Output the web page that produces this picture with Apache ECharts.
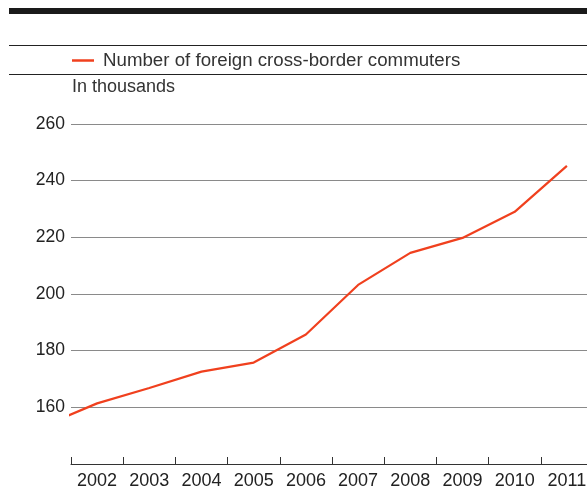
<!DOCTYPE html>
<html>
<head>
<meta charset="utf-8">
<script src="https://cdn.jsdelivr.net/npm/echarts@6/dist/echarts.min.js"></script>
<style>
    html, body { margin: 0; padding: 0; background: #fff; }
    #chart { width: 587px; height: 489px; }
</style>
</head>
<body>
<div id="chart"></div>
<script>
// year labels sit in the middle of each year, ticks on the year boundaries
const labelYears = [2002, 2003, 2004, 2005, 2006, 2007, 2008, 2009, 2010, 2011];
const tickYears = [2001.5, 2002.5, 2003.5, 2004.5, 2005.5, 2006.5, 2007.5, 2008.5, 2009.5, 2010.5];
// line points (first one is clipped at the axis start)
const pointYears = [2001, 2002, 2003, 2004, 2005, 2006, 2007, 2008, 2009, 2010, 2011];
const commuters = [153.6, 161.4, 166.8, 172.6, 175.8, 185.7, 203.2, 214.5, 219.8, 229.0, 245.2];
const yTicks = [140, 160, 180, 200, 220, 240, 260];

const seriesName = "Number of foreign cross-border commuters";
const font = "Liberation Sans, Arial, sans-serif";

const chart = echarts.init(document.getElementById("chart"), null, { renderer: "canvas" });

const option = {
    backgroundColor: "#ffffff",
    animation: false,
    textStyle: { fontFamily: font },
    graphic: [
        // heavy rule on top
        { type: "rect", shape: { x: 9, y: 8, width: 578, height: 6 }, style: { fill: "#1a1a1a" } },
        { type: "line", shape: { x1: 9, y1: 45.5, x2: 587, y2: 45.5 }, style: { stroke: "#222", lineWidth: 1 } },
        { type: "line", shape: { x1: 9, y1: 74.5, x2: 587, y2: 74.5 }, style: { stroke: "#222", lineWidth: 1 } },
        {
            type: "text", left: 72, top: 78,
            style: { text: "In thousands", fontSize: 18, fill: "#333", fontFamily: font },
        },
    ],
    legend: {
        left: 72,
        top: 51,
        padding: 0,
        icon: "rect",
        itemWidth: 22,
        itemHeight: 2.5,
        itemGap: 9,
        textStyle: { fontSize: 18.7, color: "#333", fontFamily: font, padding: [0, 0, 0, 4] },
        data: [seriesName],
    },
    grid: { left: 71, right: 0, top: 124, bottom: 25, outerBoundsMode: "none", containLabel: false },
    xAxis: {
        type: "value",
        // the year axis runs a little past the right edge, so it stops mid-2011
        min: 2001.5,
        max: 2011.385,
        axisLine: { show: true, lineStyle: { color: "#333", width: 1 } },
        axisTick: {
            show: true,
            inside: true,
            length: 7,
            customValues: tickYears,
            lineStyle: { color: "#333" },
        },
        axisLabel: {
            fontSize: 18,
            color: "#222",
            margin: 8,
            fontFamily: font,
            customValues: labelYears,
            formatter: (v) => String(v),
            hideOverlap: false,
        },
        splitLine: { show: false },
    },
    yAxis: {
        type: "value",
        min: yTicks[0],
        max: yTicks[yTicks.length - 1],
        interval: 20,
        axisLine: { show: false },
        axisTick: { show: false },
        axisLabel: {
            fontSize: 17.5,
            color: "#222",
            margin: 6,
            fontFamily: font,
            showMinLabel: false,
        },
        splitLine: { show: true, lineStyle: { color: "#8a8a8a", width: 1.2 } },
    },
    series: [
        {
            name: seriesName,
            type: "line",
            data: pointYears.map((y, i) => [y, commuters[i]]),
            showSymbol: false,
            symbol: "none",
            clip: true,
            lineStyle: { color: "#f0401e", width: 2.2 },
            itemStyle: { color: "#f0401e" },
        },
    ],
};

chart.setOption(option);
</script>
</body>
</html>
